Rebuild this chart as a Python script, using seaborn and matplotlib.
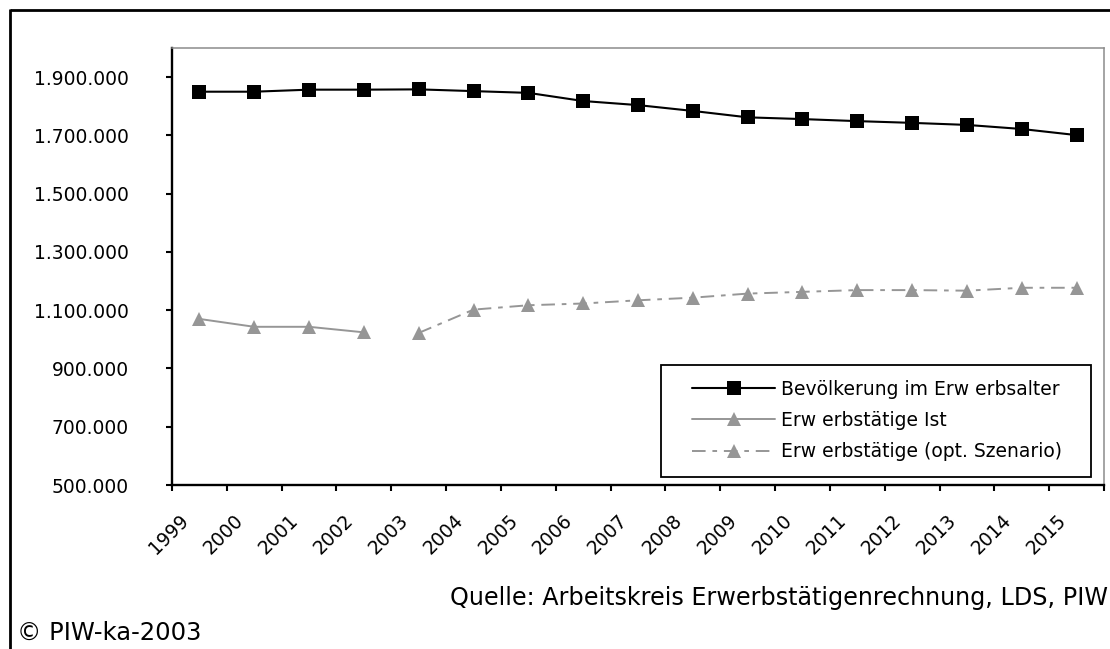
import numpy as np
import pandas as pd
import matplotlib
matplotlib.use("Agg")
import matplotlib.pyplot as plt
import matplotlib.transforms as mtransforms
from matplotlib.lines import Line2D
from matplotlib.patches import Rectangle
from matplotlib.ticker import FuncFormatter
import seaborn as sns

# data
years = ["1999", "2000", "2001", "2002", "2003", "2004", "2005", "2006", "2007",
         "2008", "2009", "2010", "2011", "2012", "2013", "2014", "2015"]
bevoelkerung = [1850000, 1850000, 1857000, 1857000, 1858000, 1852000, 1846000,
                1818000, 1804000, 1784000, 1762000, 1756000, 1749000, 1743000,
                1736000, 1722000, 1701000]
ist_years = ["1999", "2000", "2001", "2002"]
ist = [1070000, 1043000, 1043000, 1024000]
szen_years = ["2003", "2004", "2005", "2006", "2007", "2008", "2009", "2010",
              "2011", "2012", "2013", "2014", "2015"]
szenario = [1022000, 1102000, 1117000, 1123000, 1134000, 1143000, 1157000,
            1163000, 1169000, 1169000, 1167000, 1177000, 1177000]
yticks = [500000, 700000, 900000, 1100000, 1300000, 1500000, 1700000, 1900000]

labels = ["Bevölkerung im Erw erbsalter", "Erw erbstätige Ist",
          "Erw erbstätige (opt. Szenario)"]

sns.set_style("white")
plt.rcParams["font.family"] = ["DejaVu Sans"]
plt.rcParams["text.color"] = "black"
plt.rcParams["xtick.color"] = "black"
plt.rcParams["ytick.color"] = "black"

pos = {y: i for i, y in enumerate(years)}
df_b = pd.DataFrame({"x": [pos[y] for y in years], "v": bevoelkerung})
df_i = pd.DataFrame({"x": [pos[y] for y in ist_years], "v": ist})
df_s = pd.DataFrame({"x": [pos[y] for y in szen_years], "v": szenario})

grey = "#969696"
fig = plt.figure(figsize=(11.1, 6.49), dpi=100)
ax = fig.add_axes([172 / 1110, 1 - 485 / 649, (1104 - 172) / 1110, (485 - 48) / 649])

sns.lineplot(data=df_b, x="x", y="v", ax=ax, color="black", lw=1.5, marker="s",
             markersize=10, markeredgecolor="black", markeredgewidth=0,
             label=labels[0])
sns.lineplot(data=df_i, x="x", y="v", ax=ax, color=grey, lw=1.4, marker="^",
             markersize=9.5, markeredgecolor=grey, markeredgewidth=0,
             label=labels[1])
sns.lineplot(data=df_s, x="x", y="v", ax=ax, color=grey, lw=1.4, marker="^",
             markersize=9.5, markeredgecolor=grey, markeredgewidth=0,
             linestyle=(0, (7, 3.5, 2.4, 3.5)), label=labels[2])

ax.set_xlim(-0.5, len(years) - 0.5)
ax.set_ylim(500000, 2000000)
ax.set_yticks(yticks)
ax.yaxis.set_major_formatter(FuncFormatter(lambda v, p: f"{int(v):,}".replace(",", ".")))
ax.tick_params(axis="y", length=4.3, width=1.5, color="black", pad=27,
               labelsize=13.5, left=True, labelcolor="black")
ax.set_xlabel("")
ax.set_ylabel("")

# category labels between boundary ticks
ax.set_xticks(range(len(years)))
ax.set_xticklabels(years)
ax.set_xticks(np.arange(-0.5, len(years), 1.0), minor=True)
ax.tick_params(axis="x", which="major", length=0, pad=23.5, labelsize=13.5,
               labelcolor="black")
ax.tick_params(axis="x", which="minor", length=4.3, width=1.5, color="black",
               bottom=True)
shift = mtransforms.ScaledTranslation(-13.5 / 100, 0, fig.dpi_scale_trans)
for lab in ax.get_xticklabels():
    lab.set_rotation(45)
    lab.set_rotation_mode("anchor")
    lab.set_ha("right")
    lab.set_va("center")
    lab.set_transform(lab.get_transform() + shift)

for s in ["left", "bottom"]:
    ax.spines[s].set_color("black")
    ax.spines[s].set_linewidth(1.7)
for s in ["top", "right"]:
    ax.spines[s].set_color("#8c8c8c")
    ax.spines[s].set_linewidth(1.1)

# legend box
ax.add_patch(Rectangle((0.525, 0.019), 0.4607, 0.2556, transform=ax.transAxes,
                       facecolor="white", edgecolor="black", lw=1.3, zorder=4))
h, l = ax.get_legend_handles_labels()
ax.legend(h, l, loc="center left", bbox_to_anchor=(0.5584, 0.1475), frameon=False,
          fontsize=13.5, handlelength=4.4, handletextpad=0.35, labelspacing=0.65,
          borderpad=0, borderaxespad=0).set_zorder(5)

# outer frame and captions
fig.add_artist(Line2D([9.5 / 1110, 1.01], [1 - 10 / 649, 1 - 10 / 649],
                      transform=fig.transFigure, color="black", lw=2,
                      solid_capstyle="butt"))
fig.add_artist(Line2D([9.5 / 1110, 9.5 / 1110], [1 - 9 / 649, -0.01],
                      transform=fig.transFigure, color="black", lw=2,
                      solid_capstyle="butt"))
fig.text(1108 / 1110, 1 - 605 / 649, "Quelle: Arbeitskreis Erwerbstätigenrechnung, LDS, PIW",
         ha="right", va="baseline", fontsize=17.2)
fig.text(17 / 1110, 1 - 640 / 649, "© PIW-ka-2003", ha="left", va="baseline",
         fontsize=17.5)

fig.savefig("out.png", dpi=100)
